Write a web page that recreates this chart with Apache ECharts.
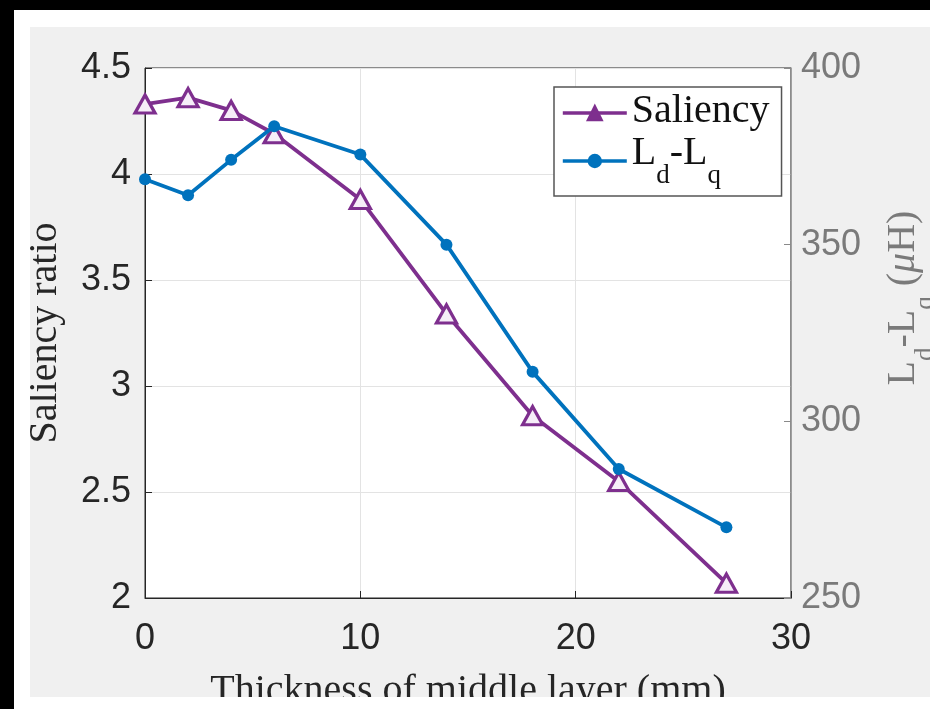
<!DOCTYPE html>
<html>
<head>
<meta charset="utf-8">
<title>Saliency vs thickness</title>
<script src="https://cdn.jsdelivr.net/npm/echarts@6/dist/echarts.min.js"></script>
<style>
  html, body {
    margin: 0;
    padding: 0;
    background: #000;
    overflow: hidden;
  }
  #paper {
    position: absolute;
    left: 14px;
    top: 10px;
    width: 916px;
    height: 699px;
    background: #fff;
  }
  #chart {
    position: absolute;
    left: 30px;
    top: 27px;
    width: 900px;
    height: 670px;
    background: #f0f0f0;
  }
</style>
</head>
<body>
<div id="paper"></div>
<div id="chart"></div>
<script>
// thickness of middle layer (mm)
const thickness = [0, 2, 4, 6, 10, 14, 18, 22, 27];
// saliency ratio (left axis)
const saliency = [4.33, 4.36, 4.30, 4.19, 3.88, 3.34, 2.86, 2.55, 2.07];
// Ld-Lq in uH (right axis)
const ldLq = [368.5, 364, 374, 383.5, 375.5, 350, 314, 286.5, 270];
// tick ranges
const xTicks = [0, 30, 10];
const leftTicks = [2, 4.5, 0.5];
const rightTicks = [250, 400, 50];

const purple = '#7e2f8e';
const blue = '#0072bd';
const dark = '#262626';
const grey = '#7a7a7a';

const pair = (xs, ys) => xs.map((x, i) => [x, ys[i]]);

// rich styles for L_d-L_q with subscripts
const serifRich = (color) => ({
  t: {fontFamily: 'Liberation Serif', fontSize: 40, color: color, lineHeight: 44, verticalAlign: 'top'},
  s: {fontFamily: 'Liberation Serif', fontSize: 27, color: color, lineHeight: 56, verticalAlign: 'bottom'},
  m: {fontFamily: 'Liberation Serif', fontSize: 40, fontStyle: 'italic', color: color, lineHeight: 44, verticalAlign: 'top'}
});

const myChart = echarts.init(document.getElementById('chart'));
myChart.setOption({
  animation: false,
  backgroundColor: '#f0f0f0',
  grid: {
    left: 115,
    right: 139,
    top: 41,
    bottom: 99,
    containLabel: false,
    outerBoundsMode: 'none',
    show: true,
    backgroundColor: '#fff',
    borderColor: dark,
    borderWidth: 1
  },
  legend: {
    orient: 'vertical',
    left: 524,
    top: 60,
    padding: [4, 12, 7, 7],
    itemGap: 2,
    itemWidth: 64,
    itemHeight: 18,
    backgroundColor: '#fff',
    borderColor: '#555',
    borderWidth: 1.5,
    lineStyle: {width: 3.6},
    data: [
      {name: 'Saliency', itemStyle: {color: purple, borderColor: purple}},
      {name: 'Ld-Lq'}
    ],
    formatter: function (name) {
      if (name === 'Ld-Lq') {
        return '{t|L}{s|d}{t|-L}{s|q}';
      }
      return '{t|' + name + '}';
    },
    textStyle: {
      rich: serifRich('#111')
    }
  },
  xAxis: {
    type: 'value',
    min: xTicks[0],
    max: xTicks[1],
    interval: xTicks[2],
    name: 'Thickness of middle layer (mm)',
    nameLocation: 'middle',
    nameGap: 73,
    nameTextStyle: {fontFamily: 'Liberation Serif', fontSize: 40, color: dark},
    axisLine: {lineStyle: {color: dark, width: 1}},
    axisTick: {inside: true, length: 7, lineStyle: {color: dark}},
    axisLabel: {fontFamily: 'Liberation Sans', fontSize: 36, color: dark, margin: 23},
    splitLine: {show: true, lineStyle: {color: '#e3e3e3', width: 1}}
  },
  yAxis: [
    {
      type: 'value',
      position: 'left',
      min: leftTicks[0],
      max: leftTicks[1],
      interval: leftTicks[2],
      name: 'Saliency ratio',
      nameLocation: 'middle',
      nameRotate: 90,
      nameGap: 80,
      nameTextStyle: {fontFamily: 'Liberation Serif', fontSize: 40, color: dark},
      axisLine: {show: true, lineStyle: {color: dark, width: 1}},
      axisTick: {show: true, inside: true, length: 7, lineStyle: {color: dark}},
      axisLabel: {fontFamily: 'Liberation Sans', fontSize: 36, color: dark, margin: 14},
      splitLine: {show: true, lineStyle: {color: '#e3e3e3', width: 1}}
    },
    {
      type: 'value',
      position: 'right',
      min: rightTicks[0],
      max: rightTicks[1],
      interval: rightTicks[2],
      name: '{t|L}{s|d}{t|-L}{s|q}{t| (}{m|μ}{t|H)}',
      nameLocation: 'middle',
      nameRotate: 90,
      nameGap: 92,
      nameTextStyle: {
        color: grey,
        padding: [0, 0, 0, 70],
        rich: serifRich(grey)
      },
      axisLine: {show: true, lineStyle: {color: '#8a8a8a', width: 1.5}},
      axisTick: {show: true, inside: true, length: 7, lineStyle: {color: '#8a8a8a'}},
      axisLabel: {fontFamily: 'Liberation Sans', fontSize: 36, color: grey, margin: 10},
      splitLine: {show: false}
    }
  ],
  series: [
    {
      name: 'Saliency',
      type: 'line',
      yAxisIndex: 0,
      data: pair(thickness, saliency),
      symbol: 'triangle',
      symbolSize: [20, 18],
      lineStyle: {color: purple, width: 3.8},
      itemStyle: {color: '#f6eef8', borderColor: purple, borderWidth: 3.2},
      z: 2
    },
    {
      name: 'Ld-Lq',
      type: 'line',
      yAxisIndex: 1,
      data: pair(thickness, ldLq),
      symbol: 'circle',
      symbolSize: 12,
      lineStyle: {color: blue, width: 3.8},
      itemStyle: {color: blue, borderColor: blue, borderWidth: 0},
      z: 3
    }
  ]
});
</script>
</body>
</html>
